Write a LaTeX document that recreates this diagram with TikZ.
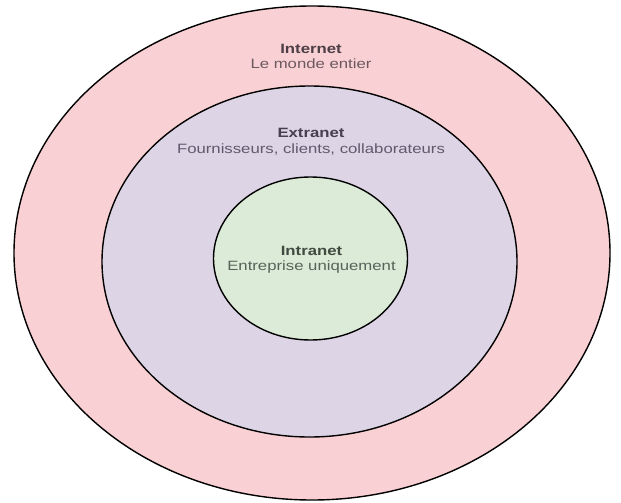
\documentclass[tikz,border=0pt]{standalone}
\usepackage{fontspec}
\setmainfont{Liberation Sans}
\newfontfamily\lblfont[FakeStretch=1.24]{Liberation Sans}
\usetikzlibrary{shapes.geometric}

\definecolor{netpink}{HTML}{F9D0D3}
\definecolor{netlilac}{HTML}{DDD4E6}
\definecolor{netgreen}{HTML}{DCEBD7}
\definecolor{inettitle}{HTML}{4D3F45}
\definecolor{inetsub}{HTML}{6B5A60}
\definecolor{extitle}{HTML}{46404F}
\definecolor{exsub}{HTML}{5F5A6C}
\definecolor{intitle}{HTML}{3F4A40}
\definecolor{insub}{HTML}{55635A}

\tikzset{
  zone/.style={draw=black, line width=1.4pt, ellipse, inner sep=0pt},
  zonelabel/.style={align=center, inner sep=0pt,
    font=\lblfont\fontsize{13.5}{15.5}\selectfont}
}

\begin{document}
\begin{tikzpicture}[x=1pt,y=-1pt]
  \useasboundingbox (0,0) rectangle (621,503);
  \fill[white] (0,0) rectangle (621,503);

  % nested network zones
  \node[zone, fill=netpink, minimum width=596pt, minimum height=494pt]
    (internet) at (312,253) {};
  \node[zone, fill=netlilac, minimum width=415pt, minimum height=351pt]
    (extranet) at (309.5,261.5) {};
  \node[zone, fill=netgreen, minimum width=194pt, minimum height=163pt]
    (intranet) at (310.5,258.5) {};

  % zone captions
  \node[zonelabel] (internetlbl) at (311,56.5)
    {\textcolor{inettitle}{\bfseries Internet}\\\textcolor{inetsub}{Le monde entier}};
  \node[zonelabel] (extranetlbl) at (311,141.5)
    {\textcolor{extitle}{\bfseries Extranet}\\\textcolor{exsub}{Fournisseurs, clients, collaborateurs}};
  \node[zonelabel] (intranetlbl) at (311.5,260)
    {\textcolor{intitle}{\bfseries Intranet}\\\textcolor{insub}{Entreprise uniquement}};
\end{tikzpicture}
\end{document}
